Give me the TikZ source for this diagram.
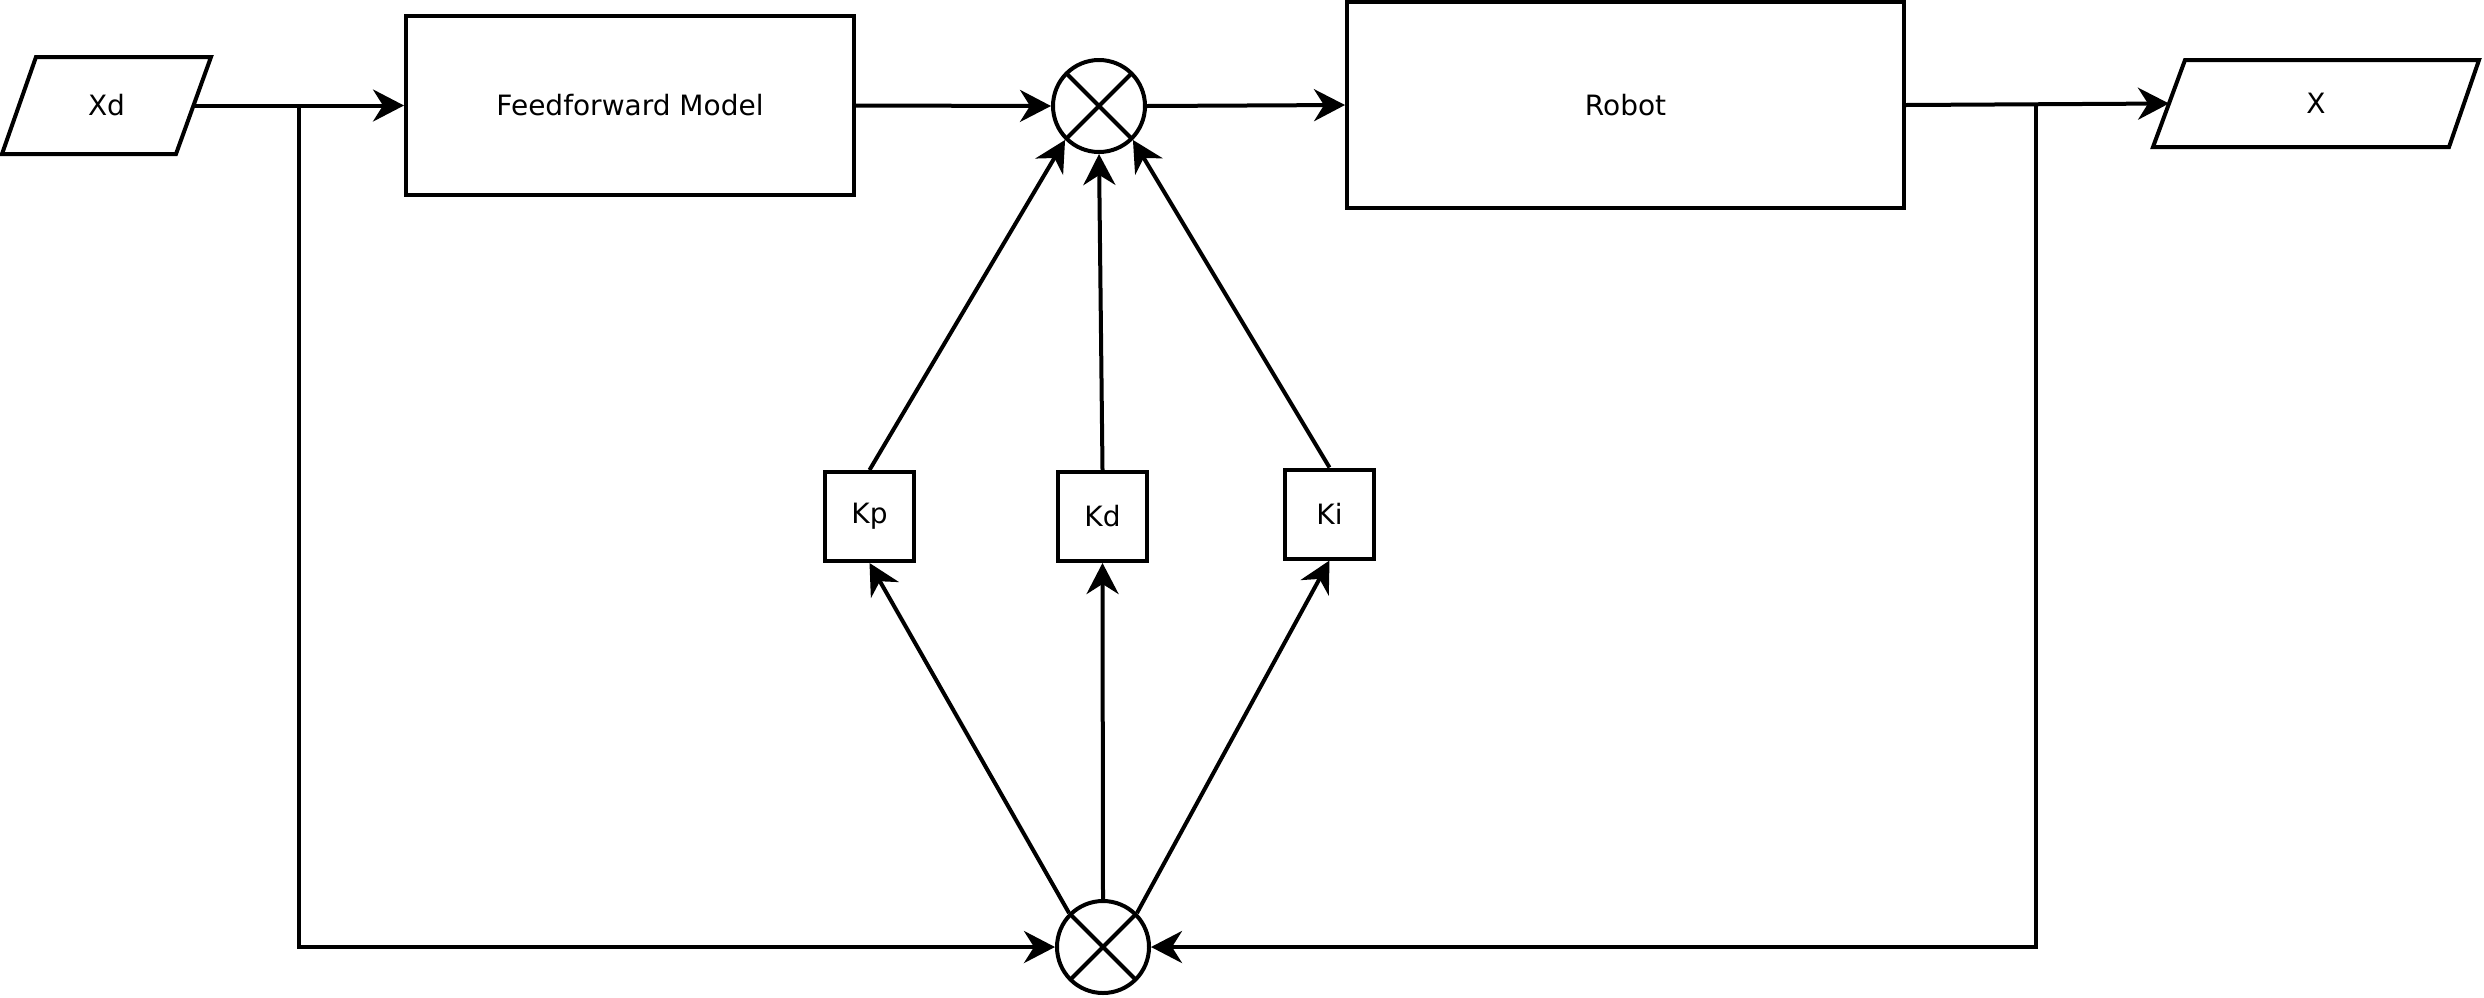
\documentclass[tikz,border=0pt]{standalone}
\usepackage{fontspec}
\setmainfont{DejaVu Sans}
\usetikzlibrary{arrows.meta}
\begin{document}
\begin{tikzpicture}[x=0.5pt,y=-0.5pt,
  line width=2pt,
  every node/.style={font=\fontsize{14}{16}\selectfont},
  blockbox/.style={draw,rectangle,inner sep=0pt},
  gainbox/.style={draw,rectangle,inner sep=0pt,minimum size=44.5pt},
  iolabel/.style={inner sep=0pt},
  sumnode/.style={draw,circle,minimum size=46pt,inner sep=0pt,
    path picture={
      \draw (path picture bounding box.north west) -- (path picture bounding box.south east);
      \draw (path picture bounding box.north east) -- (path picture bounding box.south west);
    }},
  flow/.style={-{Stealth[length=15.5pt,width=16pt,inset=5pt]}}
]
\fill[white] (0,0) rectangle (2484,997);
\useasboundingbox (0,0) rectangle (2484,997);

% input and output parallelograms
\draw (36,57) -- (211,57) -- (176,154) -- (2,154) -- cycle;
\node[iolabel] (xd) at (106.5,105.5) {Xd};
\coordinate (xdout) at (193.5,105.5);
\draw (2185,60) -- (2479,60) -- (2449,147) -- (2153,147) -- cycle;
\node[iolabel] (x) at (2316,103.5) {X};
\coordinate (xin) at (2169,103.5);

% main blocks
\node[blockbox,minimum width=224pt,minimum height=89.5pt] (ff) at (630,105.5) {Feedforward Model};
\node[blockbox,minimum width=278.5pt,minimum height=103pt] (robot) at (1625.5,105) {Robot};

% summing junctions
\node[sumnode] (sumtop) at (1099,106) {};
\node[sumnode] (sumbot) at (1103,947) {};

% PID gains
\node[gainbox] (kp) at (869.5,516.5) {Kp};
\node[gainbox] (kd) at (1102.5,516.5) {Kd};
\node[gainbox] (ki) at (1329.5,514) {Ki};

% branch points of the feedback lines
\coordinate (bl) at (299,105.5);
\coordinate (br) at (2036,105);

% forward path
\draw[flow] (xdout) -- (ff.west);
\draw[flow] (ff.east) -- (sumtop.west);
\draw[flow] (sumtop.east) -- (robot.west);
\draw[flow] (robot.east) -- (xin);

% error signal built from desired and measured state
\draw[flow] (bl) |- (sumbot.west);
\draw[flow] (br) |- (sumbot.east);

% error into the gains
\draw[flow] (sumbot.135) -- (kp.south);
\draw[flow] (sumbot.north) -- (kd.south);
\draw[flow] (sumbot.45) -- (ki.south);

% gains into the upper junction
\draw[flow] (kp.north) -- (sumtop.225);
\draw[flow] (kd.north) -- (sumtop.south);
\draw[flow] (ki.north) -- (sumtop.-45);
\end{tikzpicture}
\end{document}
